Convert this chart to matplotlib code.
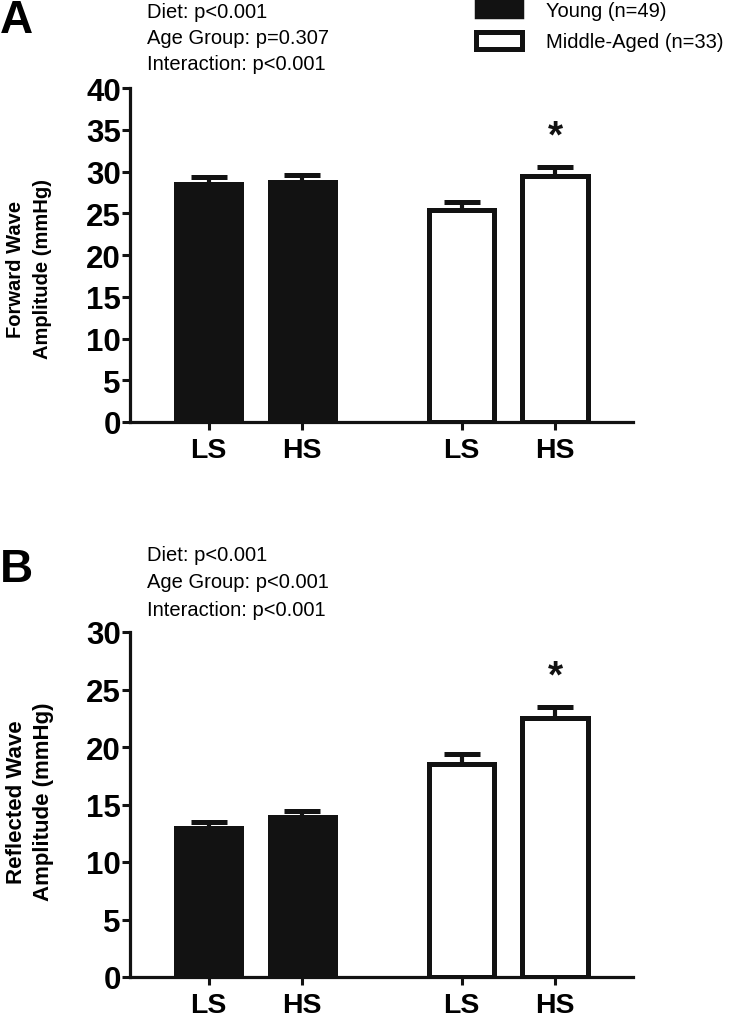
import matplotlib
matplotlib.use("Agg")
import matplotlib.pyplot as plt
from matplotlib.patches import Patch

plt.rcParams['font.family'] = ['Liberation Sans', 'DejaVu Sans']

# data
diets = ['LS', 'HS', 'LS', 'HS']
groups = ['Young (n=49)', 'Middle-Aged (n=33)']
fwd_mean = [28.5, 28.8, 25.4, 29.5]
fwd_sem = [0.8, 0.8, 0.9, 1.0]
ref_mean = [13.0, 13.9, 18.5, 22.5]
ref_sem = [0.5, 0.5, 0.9, 1.0]
fwd_stats = ['Diet: p<0.001', 'Age Group: p=0.307', 'Interaction: p<0.001']
ref_stats = ['Diet: p<0.001', 'Age Group: p<0.001', 'Interaction: p<0.001']
star_idx = 3

xpos = [1, 2, 3.7, 4.7]
black = '#121212'


def draw_panel(ax, means, sems, ymax, ystep):
    faces = [black, black, 'white', 'white']
    for x, m, f in zip(xpos, means, faces):
        ax.bar(x, m, width=0.70, color=f, edgecolor=black, linewidth=3.6, zorder=2)
    ax.errorbar(xpos, means, yerr=[[0] * 4, sems], fmt='none', ecolor=black,
                elinewidth=3.0, capsize=13, capthick=3.6, zorder=3)
    ax.annotate('*', (xpos[star_idx], means[star_idx] + sems[star_idx]),
                xytext=(0, 9), textcoords='offset points', ha='center', va='bottom',
                fontsize=28, fontweight='bold', color=black)
    ax.set_xlim(0.16, 5.53)
    ax.set_ylim(0, ymax)
    ax.set_yticks(range(0, ymax + 1, ystep))
    ax.set_xticks(xpos)
    ax.set_xticklabels(diets)
    for s in ['top', 'right']:
        ax.spines[s].set_visible(False)
    for s in ['left', 'bottom']:
        ax.spines[s].set_linewidth(2.3)
        ax.spines[s].set_color(black)
    ax.tick_params(axis='y', length=6, width=2.2, pad=0.5, labelsize=22.5, color=black)
    ax.tick_params(axis='x', length=6, width=2.2, pad=5, labelsize=20.5, color=black)
    for lab in ax.get_xticklabels() + ax.get_yticklabels():
        lab.set_fontweight('bold')


fig = plt.figure(figsize=(7.32, 10.2), dpi=100)
W, H = 732, 1020

axA = fig.add_axes([130 / W, 1 - 423 / H, 503 / W, 334 / H])
draw_panel(axA, fwd_mean, fwd_sem, 40, 5)
axB = fig.add_axes([130 / W, 1 - 978 / H, 503 / W, 345 / H])
draw_panel(axB, ref_mean, ref_sem, 30, 5)

fig.text(29 / W, 1 - 269 / H, 'Forward Wave\nAmplitude (mmHg)', rotation=90,
         ha='center', va='center', fontsize=14.5, fontweight='bold',
         multialignment='center', linespacing=1.5)
fig.text(30 / W, 1 - 802 / H, 'Reflected Wave\nAmplitude (mmHg)', rotation=90,
         ha='center', va='center', fontsize=16, fontweight='bold',
         multialignment='center', linespacing=1.35)

fig.text(0.0, 1 - 33 / H, 'A', fontsize=33, fontweight='bold', va='baseline')
fig.text(0.0, 1 - 582 / H, 'B', fontsize=33, fontweight='bold', va='baseline')

for txt, yc in zip(fwd_stats, [12, 38, 64]):
    fig.text(147 / W, 1 - yc / H, txt, fontsize=14.5, va='center')
for txt, yc in zip(ref_stats, [556, 583, 610]):
    fig.text(147 / W, 1 - yc / H, txt, fontsize=14.5, va='center')

handles = [Patch(facecolor=black, edgecolor=black, linewidth=2.5),
           Patch(facecolor='white', edgecolor=black, linewidth=3.6)]
fig.legend(handles, groups, loc='upper left', bbox_to_anchor=(476 / W, 1 - 2 / H),
           frameon=False, fontsize=14.5, handlelength=2.3, handleheight=0.85,
           handletextpad=1.2, labelspacing=0.62, borderpad=0, borderaxespad=0)

fig.savefig('out.png', dpi=100)
